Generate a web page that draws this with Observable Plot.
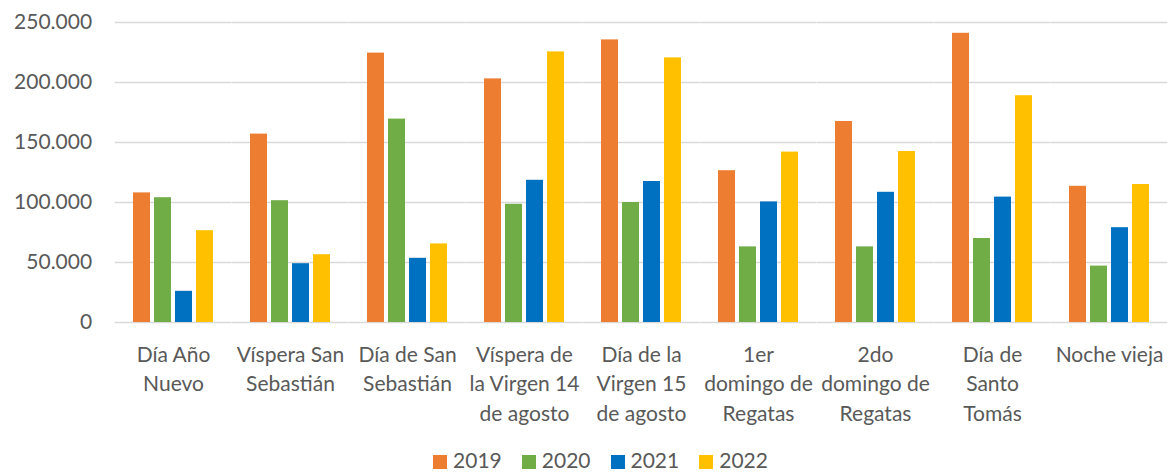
<!DOCTYPE html>
<html><head><meta charset="utf-8">
<script src="https://cdn.jsdelivr.net/npm/d3@7"></script>
<script src="https://cdn.jsdelivr.net/npm/@observablehq/plot@0.6"></script>
<style>
html,body{margin:0;background:#fff;font-family:Lato, sans-serif;overflow:hidden;}
#legend{display:flex;justify-content:center;align-items:center;height:18px;padding-left:28px;padding-top:1px;font-family:Lato;font-size:21px;color:#595959;line-height:18px;}
#legend .item{display:flex;align-items:center;margin:0 10px;}
#legend .sw{width:14px;height:14px;margin-right:6px;margin-top:3px;}
</style></head><body><div id="chart"></div><div id="legend"></div>
<script>
const categories = ["Día Año Nuevo","Víspera San Sebastián","Día de San Sebastián","Víspera de la Virgen 14 de agosto","Día de la Virgen 15 de agosto","1er domingo de Regatas","2do domingo de Regatas","Día de Santo Tomás","Noche vieja"];
const tickLabels = ["Día Año\nNuevo","Víspera San\nSebastián","Día de San\nSebastián","Víspera de\nla Virgen 14\nde agosto","Día de la\nVirgen 15\nde agosto","1er\ndomingo de\nRegatas","2do\ndomingo de\nRegatas","Día de\nSanto\nTomás","Noche vieja"];
const years = ["2019","2020","2021","2022"];
const colors = ["#ED7D31","#70AD47","#0070C0","#FFC000"];
const v2019 = [108000,157000,224500,203000,235500,126500,167500,241000,113500];
const v2020 = [104000,101500,169500,98500,100000,63000,63000,70000,47000];
const v2021 = [26000,49000,53500,118500,117500,100500,108500,104500,79000];
const v2022 = [76500,56500,65500,225500,220500,142000,142500,189000,115000];
const yTicks = [0,50000,100000,150000,200000,250000];

const seriesList = [v2019,v2020,v2021,v2022];
const data = categories.flatMap((c,i)=>years.map((y,k)=>({category:c,year:y,value:seriesList[k][i]})));
const fmt = d3.formatLocale({decimal:",",thousands:".",grouping:[3],currency:["",""]}).format(",d");

const W = 1173, ML = 111, MR = 2, PI = 0.312, PO = 0.156;
const step = (W - ML - MR) / categories.length;
const halfGap = PO * step;

const plot = Plot.plot({
  width:W, height:450, marginTop:22, marginBottom:128, marginLeft:ML, marginRight:MR,
  style:{fontFamily:"Lato", fontSize:"21px", color:"#595959", background:"#fff", overflow:"visible"},
  fx:{domain:categories, paddingInner:PI, paddingOuter:PO, label:null, axis:null},
  x:{domain:years, paddingInner:0.2, paddingOuter:0, axis:null},
  y:{domain:[0,250000], axis:null},
  color:{domain:years, range:colors},
  marks:[
    Plot.ruleY(yTicks, {y:d=>d, stroke:"#d9d9d9", strokeWidth:1.5, insetLeft:-halfGap, insetRight:-halfGap}),
    Plot.axisY(yTicks, {tickSize:0, tickPadding:23 + halfGap, tickFormat:fmt, label:null, fill:"#595959"}),
    Plot.barY(data, {fx:"category", x:"year", y:"value", fill:"year"}),
    Plot.axisFx({anchor:"bottom", tickSize:0, tickPadding:18, lineHeight:1.415, fill:"#595959", tickFormat:d=>tickLabels[categories.indexOf(d)], label:null})
  ]
});
document.getElementById("chart").appendChild(plot);

const lg = d3.select("#legend");
years.forEach((y,k)=>{
  const it = lg.append("div").attr("class","item");
  it.append("div").attr("class","sw").style("background",colors[k]);
  it.append("span").text(y);
});
</script></body></html>
